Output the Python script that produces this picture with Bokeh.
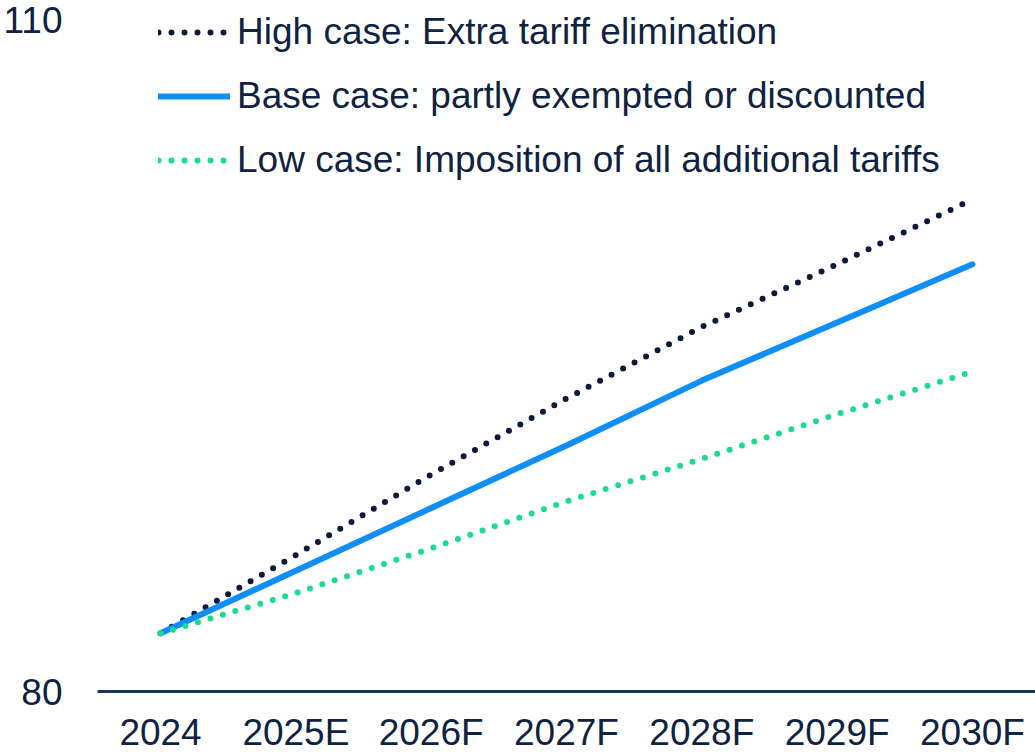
from bokeh.plotting import figure
from bokeh.models import Range1d, FixedTicker, Legend, LegendItem
from bokeh.embed import file_html
from bokeh.resources import INLINE

years = ["2024", "2025E", "2026F", "2027F", "2028F", "2029F", "2030F"]
high = [82.6, 86.1, 89.7, 93.1, 96.3, 99.1, 102.0]
base = [82.6, 85.4, 88.2, 91.0, 93.9, 96.5, 99.1]
low = [82.6, 84.4, 86.4, 88.5, 90.4, 92.4, 94.3]
y_ticks = [80, 110]
series_labels = [
    "High case: Extra tariff elimination",
    "Base case: partly exempted or discounted",
    "Low case: Imposition of all additional tariffs",
]

x = list(range(len(years)))
TEXT = "#0f2341"
FONT = "Liberation Sans"
FS = "37px"

p = figure(width=1035, height=755, output_backend="svg", toolbar_location=None,
           x_range=Range1d(-0.466, 6.466), y_range=Range1d(80, 110.893),
           min_border_left=97, min_border_right=0, min_border_top=0, min_border_bottom=63)
p.outline_line_color = None
p.grid.grid_line_color = None
p.background_fill_color = "white"

r_high = p.line(x, high, line_color="#0b1a3a", line_width=6, line_dash="0 13", line_cap="round")
r_base = p.line(x, base, line_color="#0f8ef5", line_width=6, line_cap="round")
r_low = p.line(x, low, line_color="#19dc8e", line_width=6, line_dash="0 13", line_cap="round")

xa = p.xaxis[0]
xa.ticker = FixedTicker(ticks=x)
xa.major_label_overrides = {i: y for i, y in enumerate(years)}
xa.axis_line_color = "#1b365d"
xa.axis_line_width = 3
xa.major_tick_line_color = None
xa.minor_tick_line_color = None
xa.major_tick_out = 0
xa.major_tick_in = 0
xa.major_label_standoff = 20
xa.major_label_text_font = FONT
xa.major_label_text_font_size = FS
xa.major_label_text_color = TEXT

ya = p.yaxis[0]
ya.ticker = FixedTicker(ticks=y_ticks)
ya.axis_line_color = None
ya.major_tick_line_color = None
ya.minor_tick_line_color = None
ya.major_tick_out = 0
ya.major_tick_in = 0
ya.major_label_standoff = 35
ya.major_label_text_font = FONT
ya.major_label_text_font_size = FS
ya.major_label_text_color = TEXT

legend = Legend(
    items=[LegendItem(label=series_labels[0], renderers=[r_high]),
           LegendItem(label=series_labels[1], renderers=[r_base]),
           LegendItem(label=series_labels[2], renderers=[r_low])],
    location=(61, 509),
    padding=0, margin=0, spacing=20,
    glyph_width=72, glyph_height=44, label_height=44, label_standoff=7,
    label_text_font=FONT, label_text_font_size=FS, label_text_color=TEXT,
    border_line_color=None, background_fill_alpha=0,
)
p.add_layout(legend, "center")

open("out.html", "w").write(file_html(p, INLINE))
